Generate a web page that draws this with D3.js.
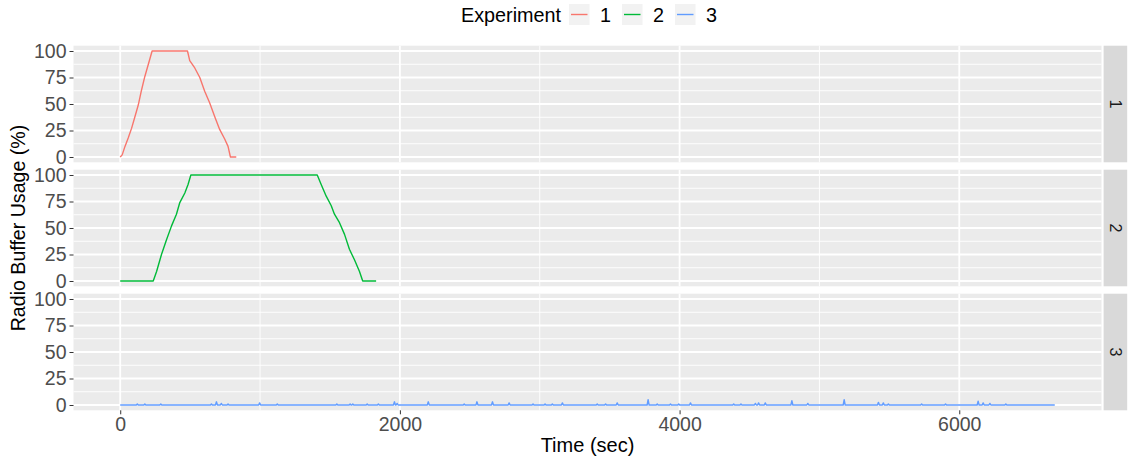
<!DOCTYPE html>
<html>
<head>
<meta charset="utf-8">
<script src="https://cdn.jsdelivr.net/npm/d3@7"></script>
<style>
    body { margin: 0; background: #ffffff; }
    svg text { font-family: "Liberation Sans", Arial, sans-serif; }
</style>
</head>
<body>
<div id="chart"></div>
<script>
// experiment ids and colours (ggplot default hue)
let experiments = ['1', '2', '3'];
let colors = ['#F8766D', '#00BA38', '#619CFF'];

// experiment 1: time (sec) / buffer usage (%)
let time1 = [0, 14, 34, 57, 81, 105, 129, 152, 176, 200, 228, 481, 497, 533, 569, 604, 640, 676, 711, 747, 771, 788, 830];
let usage1 = [0, 2, 10, 18, 27, 38, 49, 63, 76, 87, 100, 100, 91, 84, 75, 62, 51, 38, 26, 17, 10, 0, 0];

// experiment 2
let time2 = [0, 236, 260, 295, 331, 367, 402, 426, 462, 485, 505, 1409, 1437, 1473, 1509, 1532, 1568, 1604, 1639, 1675, 1711, 1734, 1830];
let usage2 = [0, 0, 9, 25, 39, 52, 63, 74, 83, 91, 100, 100, 91, 80, 71, 63, 55, 44, 30, 20, 9, 0, 0];

// experiment 3: flat at 0 with small spikes
let spikeTime3 = [122, 176, 290, 652, 688, 723, 771, 997, 1123, 1549, 1644, 1663, 1766, 1846, 1961, 1980, 2203, 2460, 2551, 2662,
    2781, 2952, 3038, 3090, 3162, 3411, 3471, 3554, 3775, 3840, 3935, 3994, 4078, 4387, 4439, 4542, 4565, 4613, 4803, 4917,
    5177, 5422, 5457, 5493, 5731, 5902, 6135, 6171, 6219, 6333];
let spikeUsage3 = [1, 1, 1, 1, 3, 1.5, 1, 2, 1, 1, 1, 1, 1, 1, 3, 1.5, 3, 1, 3, 3,
    2, 1, 1, 1, 2, 1, 1, 2, 5, 1, 1, 1, 2, 1, 1, 1.5, 2, 2, 4, 1.5,
    5, 2.5, 2, 1, 1, 1, 3.5, 2, 1.5, 1];
let endTime3 = 6683;

let xTicks = [0, 2000, 4000, 6000];
let yTicks = [0, 25, 50, 75, 100];

// build point lists
let series = [];
series.push(time1.map(function (t, i) { return {t: t, v: usage1[i]}; }));
series.push(time2.map(function (t, i) { return {t: t, v: usage2[i]}; }));
let s3 = [{t: 0, v: 0}];
spikeTime3.forEach(function (t, i) {
    s3.push({t: t - 7, v: 0});
    s3.push({t: t, v: spikeUsage3[i]});
    s3.push({t: t + 7, v: 0});
});
s3.push({t: endTime3, v: 0});
series.push(s3);

// layout
let W = 1129, H = 461;
let pL = 73.5, pR = 1101.5;
let pTop = 45.7, pH = 116.6, pGap = 7.4;
let stripX = 1103.6, stripW = 23.6;

let svg = d3.select('#chart').append('svg')
    .attr('width', W).attr('height', H);

// scales with 5% expansion like ggplot
let allT = d3.merge(series).map(function (d) { return d.t; });
let tMin = d3.min(allT), tMax = d3.max(allT);
let tPad = (tMax - tMin) * 0.05;
let xScale = d3.scaleLinear().domain([tMin - tPad, tMax + tPad]).range([pL, pR]);
let yDom = [0, 100];
let yPad = (yDom[1] - yDom[0]) * 0.05;
let yScale = d3.scaleLinear().domain([yDom[0] - yPad, yDom[1] + yPad]).range([pH, 0]);

let xMinor = [1000, 3000, 5000];
let yMinor = [12.5, 37.5, 62.5, 87.5];

let line = d3.line()
    .x(function (d) { return xScale(d.t); })
    .y(function (d) { return yScale(d.v); });

experiments.forEach(function (e, i) {
    let top = pTop + i * (pH + pGap);
    let g = svg.append('g').attr('transform', 'translate(0,' + top + ')');

    // panel background
    g.append('rect')
        .attr('x', pL).attr('y', 0)
        .attr('width', pR - pL).attr('height', pH)
        .attr('fill', '#EBEBEB');

    // minor grid
    g.selectAll('line.xminor').data(xMinor).enter().append('line')
        .attr('x1', function (d) { return xScale(d); }).attr('x2', function (d) { return xScale(d); })
        .attr('y1', 0).attr('y2', pH)
        .attr('stroke', '#ffffff').attr('stroke-width', 0.9);
    g.selectAll('line.yminor').data(yMinor).enter().append('line')
        .attr('x1', pL).attr('x2', pR)
        .attr('y1', function (d) { return yScale(d); }).attr('y2', function (d) { return yScale(d); })
        .attr('stroke', '#ffffff').attr('stroke-width', 0.9);

    // major grid
    g.selectAll('line.xmajor').data(xTicks).enter().append('line')
        .attr('x1', function (d) { return xScale(d); }).attr('x2', function (d) { return xScale(d); })
        .attr('y1', 0).attr('y2', pH)
        .attr('stroke', '#ffffff').attr('stroke-width', 1.8);
    g.selectAll('line.ymajor').data(yTicks).enter().append('line')
        .attr('x1', pL).attr('x2', pR)
        .attr('y1', function (d) { return yScale(d); }).attr('y2', function (d) { return yScale(d); })
        .attr('stroke', '#ffffff').attr('stroke-width', 1.8);

    // data line
    g.append('path')
        .datum(series[i])
        .attr('d', line)
        .attr('fill', 'none')
        .attr('stroke', colors[i])
        .attr('stroke-width', 1.4)
        .attr('stroke-linejoin', 'round');

    // y axis
    let yAxis = g.append('g')
        .attr('transform', 'translate(' + pL + ',0)')
        .call(d3.axisLeft(yScale).tickValues(yTicks).tickSize(4).tickPadding(3));
    yAxis.select('.domain').remove();
    yAxis.selectAll('line').attr('stroke', '#333333').attr('stroke-width', 1);
    yAxis.selectAll('text')
        .attr('fill', '#4D4D4D')
        .style('font-size', '19.5px');

    // strip on the right
    g.append('rect')
        .attr('x', stripX).attr('y', 0)
        .attr('width', stripW).attr('height', pH)
        .attr('fill', '#D9D9D9');
    g.append('text')
        .attr('transform', 'translate(' + (stripX + stripW / 2) + ',' + (pH / 2) + ') rotate(90)')
        .attr('text-anchor', 'middle')
        .attr('dy', '0.35em')
        .attr('fill', '#1A1A1A')
        .style('font-size', '16px')
        .text(e);
});

// x axis under the last panel
let bottom = pTop + 3 * pH + 2 * pGap;
let xAxis = svg.append('g')
    .attr('transform', 'translate(0,' + bottom + ')')
    .call(d3.axisBottom(xScale).tickValues(xTicks).tickFormat(d3.format('d')).tickSize(4).tickPadding(3));
xAxis.select('.domain').remove();
xAxis.selectAll('line').attr('stroke', '#333333').attr('stroke-width', 1);
xAxis.selectAll('text')
    .attr('fill', '#4D4D4D')
    .style('font-size', '19.5px');

// axis titles
svg.append('text')
    .attr('x', (pL + pR) / 2).attr('y', 452)
    .attr('text-anchor', 'middle')
    .style('font-size', '20px')
    .text('Time (sec)');
svg.append('text')
    .attr('transform', 'translate(25,' + (pTop + (3 * pH + 2 * pGap) / 2) + ') rotate(-90)')
    .attr('text-anchor', 'middle')
    .style('font-size', '19.6px')
    .text('Radio Buffer Usage (%)');

// legend
let legend = svg.append('g');
legend.append('text')
    .attr('x', 461).attr('y', 22)
    .style('font-size', '19.8px')
    .text('Experiment');
let keyX = [569, 622, 675];
experiments.forEach(function (e, i) {
    legend.append('rect')
        .attr('x', keyX[i]).attr('y', 4)
        .attr('width', 20.5).attr('height', 21)
        .attr('fill', '#F2F2F2');
    legend.append('line')
        .attr('x1', keyX[i] + 2).attr('x2', keyX[i] + 18.5)
        .attr('y1', 14.5).attr('y2', 14.5)
        .attr('stroke', colors[i]).attr('stroke-width', 1.4);
    legend.append('text')
        .attr('x', keyX[i] + 31).attr('y', 22)
        .style('font-size', '19.8px')
        .text(e);
});
</script>
</body>
</html>
